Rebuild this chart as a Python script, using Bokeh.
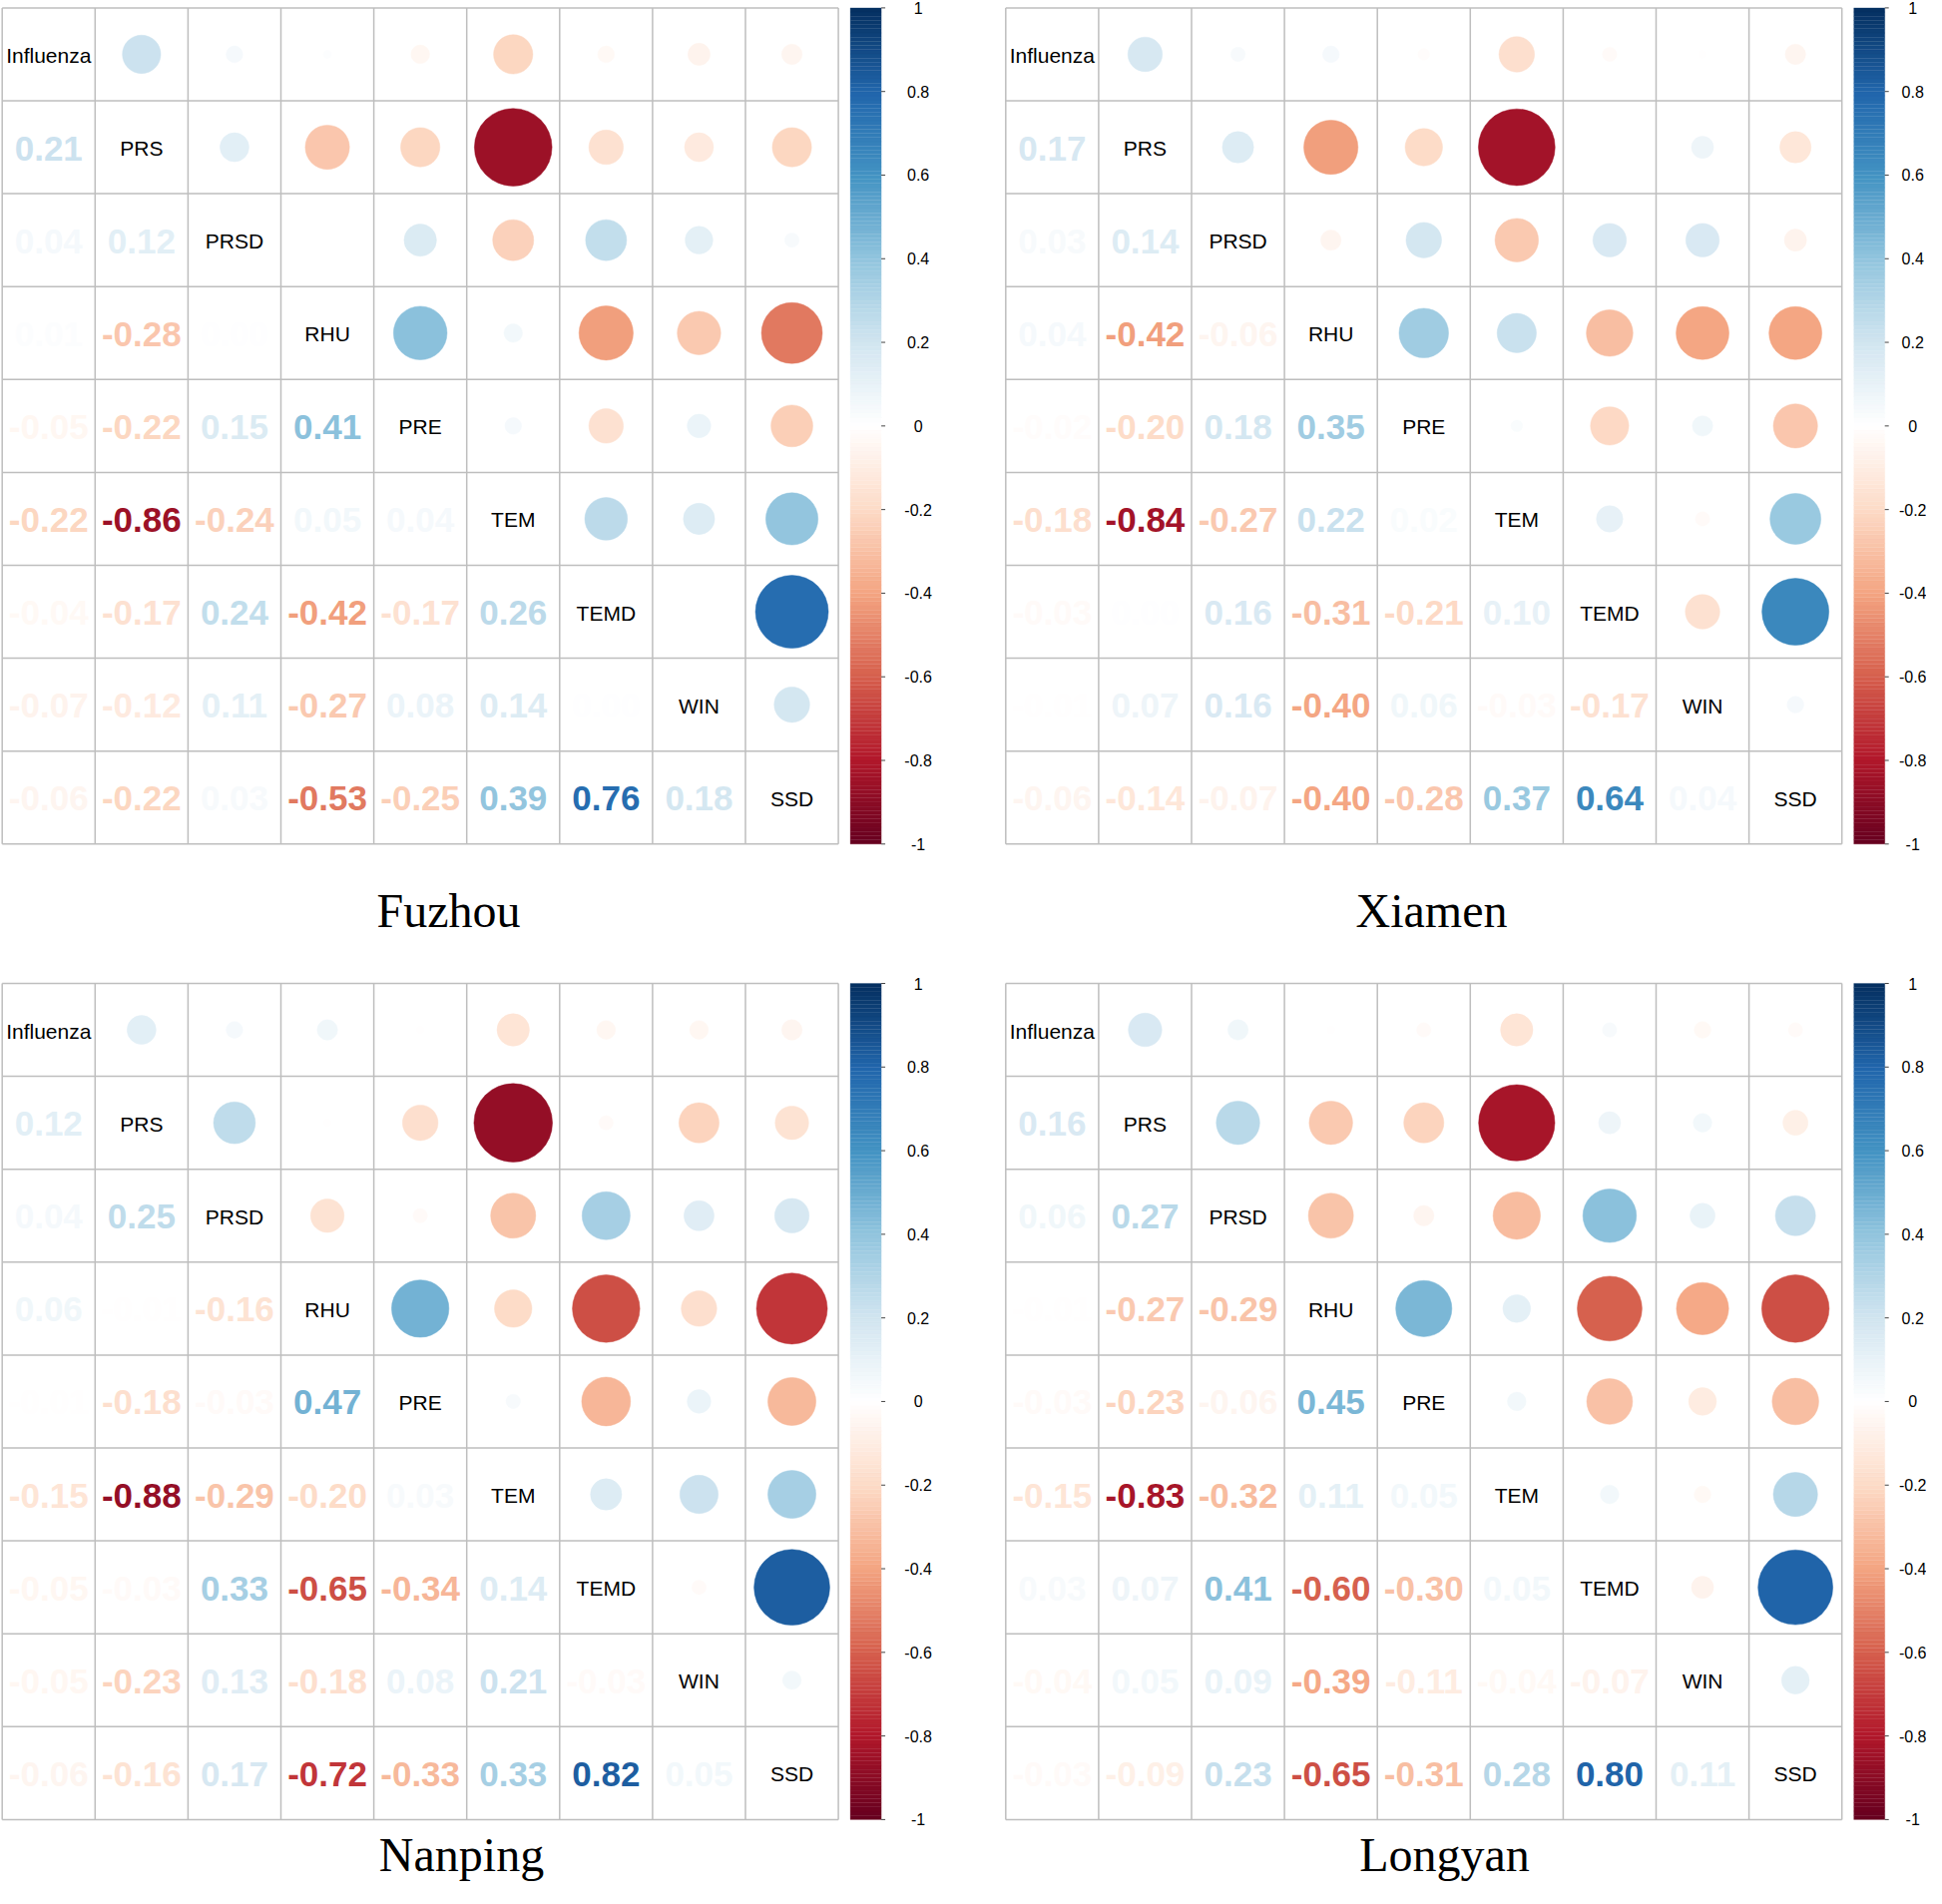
import numpy as np
from bokeh.plotting import figure
from bokeh.models import Range1d
from bokeh.core.properties import value
from bokeh.embed import file_html
from bokeh.resources import INLINE

# ---------------- data ----------------
variables = ["Influenza", "PRS", "PRSD", "RHU", "PRE", "TEM", "TEMD", "WIN", "SSD"]
cities = ["Fuzhou", "Xiamen", "Nanping", "Longyan"]

# lower triangles (row i holds correlations with variables 0..i-1)
fuzhou = [
    [],
    [0.21],
    [0.04, 0.12],
    [0.01, -0.28, 0.00],
    [-0.05, -0.22, 0.15, 0.41],
    [-0.22, -0.86, -0.24, 0.05, 0.04],
    [-0.04, -0.17, 0.24, -0.42, -0.17, 0.26],
    [-0.07, -0.12, 0.11, -0.27, 0.08, 0.14, 0.00],
    [-0.06, -0.22, 0.03, -0.53, -0.25, 0.39, 0.76, 0.18],
]
xiamen = [
    [],
    [0.17],
    [0.03, 0.14],
    [0.04, -0.42, -0.06],
    [-0.02, -0.20, 0.18, 0.35],
    [-0.18, -0.84, -0.27, 0.22, 0.02],
    [-0.03, 0.00, 0.16, -0.31, -0.21, 0.10],
    [-0.01, 0.07, 0.16, -0.40, 0.06, -0.03, -0.17],
    [-0.06, -0.14, -0.07, -0.40, -0.28, 0.37, 0.64, 0.04],
]
nanping = [
    [],
    [0.12],
    [0.04, 0.25],
    [0.06, -0.01, -0.16],
    [-0.01, -0.18, -0.03, 0.47],
    [-0.15, -0.88, -0.29, -0.20, 0.03],
    [-0.05, -0.03, 0.33, -0.65, -0.34, 0.14],
    [-0.05, -0.23, 0.13, -0.18, 0.08, 0.21, -0.03],
    [-0.06, -0.16, 0.17, -0.72, -0.33, 0.33, 0.82, 0.05],
]
longyan = [
    [],
    [0.16],
    [0.06, 0.27],
    [-0.01, -0.27, -0.29],
    [-0.03, -0.23, -0.06, 0.45],
    [-0.15, -0.83, -0.32, 0.11, 0.05],
    [0.03, 0.07, 0.41, -0.60, -0.30, 0.05],
    [-0.04, 0.05, 0.09, -0.39, -0.11, -0.04, -0.07],
    [-0.03, -0.09, 0.23, -0.65, -0.31, 0.28, 0.80, 0.11],
]
lower_tables = [fuzhou, xiamen, nanping, longyan]

legend_ticks = [1.0, 0.8, 0.6, 0.4, 0.2, 0.0, -0.2, -0.4, -0.6, -0.8, -1.0]
legend_labels = ["1", "0.8", "0.6", "0.4", "0.2", "0", "-0.2", "-0.4", "-0.6", "-0.8", "-1"]

# corrplot RdBu ramp (from -1 to 1)
ramp = ["#67001F", "#B2182B", "#D6604D", "#F4A582", "#FDDBC7", "#FFFFFF",
        "#D1E5F0", "#92C5DE", "#4393C3", "#2166AC", "#053061"]

# ---------------- helpers ----------------
ramp_rgb = np.array([[int(h[i:i + 2], 16) for i in (1, 3, 5)] for h in ramp], float)
N_COL = 200
pos = np.linspace(0, 1, len(ramp))
tpal = np.linspace(0, 1, N_COL)
pal_rgb = np.stack([np.interp(tpal, pos, ramp_rgb[:, k]) for k in range(3)], axis=1)
palette = ["#%02x%02x%02x" % tuple(int(round(c)) for c in row) for row in pal_rgb]


def col_for(r):
    idx = int(np.ceil((r + 1) / 2 * (N_COL - 1)))
    return palette[max(0, min(N_COL - 1, idx))]


def full_matrix(lower):
    n = len(variables)
    m = np.eye(n)
    for i, row in enumerate(lower):
        for j, v in enumerate(row):
            m[i, j] = v
            m[j, i] = v
    return m


# ---------------- layout ----------------
W, H = 1930, 1892
X0, Y0 = 1, 1
p = figure(width=W, height=H, x_range=Range1d(X0, X0 + W), y_range=Range1d(Y0 + H, Y0),
           output_backend="svg", toolbar_location=None, min_border=0)
p.axis.visible = False
p.grid.visible = False
p.outline_line_color = None
p.background_fill_color = "white"
p.border_fill_color = "white"

CELL = 93.1
origins = [(2.7, 8.4), (1008.3, 8.4), (2.7, 986.0), (1008.3, 986.0)]
label_offset = [37, 28, 37, 28]
title_pos = [(450, 913), (1435, 913), (463, 1859), (1448, 1859)]
n = len(variables)

for k, (lower, city) in enumerate(zip(lower_tables, cities)):
    ox, oy = origins[k]
    M = full_matrix(lower)

    # circles (upper triangle)
    cx, cy, cr, cc = [], [], [], []
    # numbers (lower triangle)
    tx, ty, tt, tc = [], [], [], []
    for i in range(n):
        for j in range(n):
            xc = ox + (j + 0.5) * CELL
            yc = oy + (i + 0.5) * CELL
            v = M[i, j]
            if j > i:
                if abs(v) > 0:
                    cx.append(xc); cy.append(yc)
                    cr.append(0.45 * np.sqrt(abs(v)) * CELL)
                    cc.append(col_for(v))
            elif j < i:
                tx.append(xc); ty.append(yc + 1)
                tt.append("%.2f" % v)
                tc.append(col_for(v))

    # grid
    gx0, gx1, gy0, gy1 = [], [], [], []
    for g in range(n + 1):
        gx0.append(ox + g * CELL); gx1.append(ox + g * CELL)
        gy0.append(oy); gy1.append(oy + n * CELL)
        gx0.append(ox); gx1.append(ox + n * CELL)
        gy0.append(oy + g * CELL); gy1.append(oy + g * CELL)
    p.segment(gx0, gy0, gx1, gy1, line_color="#BEBEBE", line_width=1.5)

    p.circle(cx, cy, radius=cr, fill_color=cc, line_color=cc, line_width=0.5)
    p.text(tx, ty, text=tt, text_color=tc, text_align="center", text_baseline="middle",
           text_font=value("Liberation Sans"), text_font_size="35px", text_font_style="bold")

    # diagonal labels
    dx = [ox + (i + 0.5) * CELL for i in range(n)]
    dy = [oy + (i + 0.5) * CELL + 1 for i in range(n)]
    p.text(dx, dy, text=variables, text_color="black", text_align="center",
           text_baseline="middle", text_font=value("Liberation Sans"), text_font_size="21px")

    # colour bar
    bl = ox + n * CELL + 12
    br = bl + 31
    top, bot = oy, oy + n * CELL
    edges = np.linspace(bot, top, N_COL + 1)
    p.quad(left=bl, right=br, bottom=edges[:-1], top=edges[1:], fill_color=palette,
           line_color=palette, line_width=0.3)
    ly = [top + (1 - t) / 2 * (bot - top) for t in legend_ticks]
    p.segment([br] * len(ly), ly, [br + 4] * len(ly), ly, line_color="#444444", line_width=1)
    p.text([br + label_offset[k]] * len(ly), ly, text=legend_labels, text_color="black",
           text_align="center", text_baseline="middle",
           text_font=value("Liberation Sans"), text_font_size="16px")

    # title
    tx_, ty_ = title_pos[k]
    p.text([tx_], [ty_], text=[city], text_color="black", text_align="center",
           text_baseline="middle", text_font=value("Liberation Serif"),
           text_font_size="48px")

open("out.html", "w").write(file_html(p, INLINE))
